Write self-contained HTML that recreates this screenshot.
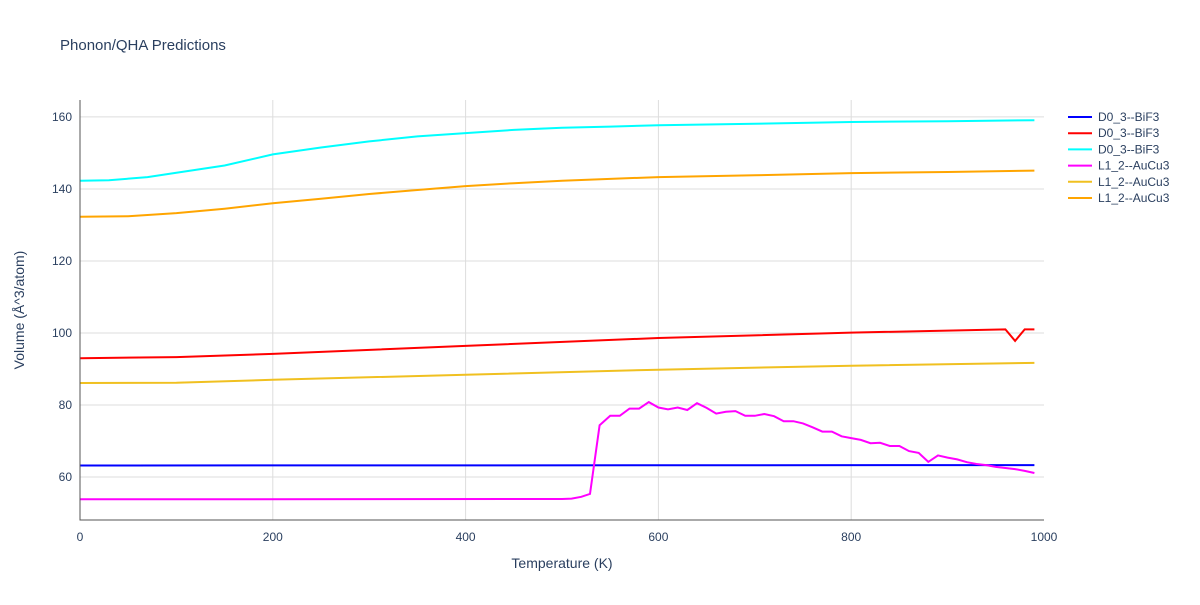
<!DOCTYPE html>
<html><head><meta charset="utf-8"><style>
body{margin:0;background:#fff;font-family:"Liberation Sans",sans-serif}
svg text{font-family:"Liberation Sans",sans-serif;fill:#2a3f5f}
</style></head><body>
<svg id="c" width="1200" height="600">
<text x="60" y="50" font-size="15">Phonon/QHA Predictions</text>
<g id="grid"></g><g id="series"></g><g id="axes"></g><g id="legend"></g>
<text x="562" y="568" font-size="14" text-anchor="middle">Temperature (K)</text>
<text transform="translate(24,310) rotate(-90)" font-size="14" text-anchor="middle">Volume (Å^3/atom)</text>
</svg>
<script>
const xTicks=[0,200,400,600,800,1000];
const yTicks=[60,80,100,120,140,160];
const names=["D0_3--BiF3","D0_3--BiF3","D0_3--BiF3","L1_2--AuCu3","L1_2--AuCu3","L1_2--AuCu3"];
const colors=["#0000ff","#ff0000","#00ffff","#ff00ff","#f0c020","#ffa500"];
const tBlue=[0,990];const vBlue=[63.2,63.3];
const tRed=[0,100,200,400,600,800,960,970,980,990];const vRed=[93.0,93.3,94.2,96.4,98.6,100.1,101.0,97.8,101.0,101.0];
const tCyan=[0,30,70,100,150,200,250,300,350,400,450,500,550,600,700,800,900,990];
const vCyan=[142.3,142.4,143.3,144.5,146.5,149.6,151.5,153.2,154.6,155.5,156.4,157.0,157.3,157.7,158.1,158.6,158.8,159.1];
const tMag=[0,500,510,520,529,539,550,560,570,580,590,600,610,620,630,640,650,660,670,680,690,700,710,720,730,740,750,760,770,780,790,800,810,820,830,840,850,860,870,880,890,900,910,920,930,940,950,960,970,980,990];
const vMag=[53.8,53.9,54.0,54.5,55.3,74.4,77.0,77.0,79.0,79.0,80.8,79.3,78.8,79.3,78.6,80.5,79.2,77.6,78.1,78.3,77.0,77.0,77.5,76.9,75.5,75.5,74.9,73.8,72.6,72.6,71.3,70.8,70.3,69.4,69.5,68.6,68.6,67.2,66.7,64.2,66.0,65.4,64.9,64.1,63.6,63.3,62.8,62.5,62.2,61.7,61.1];
const tYel=[0,100,200,400,600,800,990];const vYel=[86.1,86.2,87.0,88.4,89.8,90.9,91.7];
const tOr=[0,50,100,150,200,250,300,350,400,450,500,550,600,700,800,900,990];
const vOr=[132.3,132.4,133.3,134.5,136.0,137.3,138.6,139.7,140.8,141.6,142.3,142.8,143.3,143.8,144.4,144.7,145.1];
const X0=80,X1=1044,Y0=520,Y1=100,xMin=0,xMax=1000,yMin=48.06,yMax=164.7;
const sx=v=>X0+(v-xMin)/(xMax-xMin)*(X1-X0);
const sy=v=>Y0-(v-yMin)/(yMax-yMin)*(Y0-Y1);
const NS="http://www.w3.org/2000/svg";
function mk(tag,attrs,parent){const e=document.createElementNS(NS,tag);for(const k in attrs)e.setAttribute(k,attrs[k]);document.getElementById(parent).appendChild(e);return e;}
xTicks.forEach(t=>{
 if(t>0&&t<1000){const g=mk("line",{x1:sx(t),x2:sx(t),y1:Y1,y2:Y0,stroke:"#ddd"},"grid");
 
 }
 const l=mk("text",{x:sx(t),y:Y0+21,"font-size":12,"text-anchor":"middle"},"axes");l.textContent=t;
 
 
});
yTicks.forEach(t=>{
 const g=mk("line",{x1:X0,x2:X1,y1:sy(t),y2:sy(t),stroke:"#ddd"},"grid");
 
 
 const l=mk("text",{x:X0-8,y:sy(t)+4,"font-size":12,"text-anchor":"end"},"axes");l.textContent=t;
 
 
});
const ax=mk("path",{d:`M${X0},${Y1}V${Y0}H${X1}`,stroke:"#555",fill:"none"},"axes");


const S=[[tBlue,vBlue],[tRed,vRed],[tCyan,vCyan],[tMag,vMag],[tYel,vYel],[tOr,vOr]];
S.forEach((s,i)=>{
 const d=s[0].map((t,j)=>(j?"L":"M")+sx(t).toFixed(1)+","+sy(s[1][j]).toFixed(1)).join("");
 const p=mk("path",{d:d,stroke:colors[i],"stroke-width":2,fill:"none"},"series");
 
 
 const y=117+i*16.2;
 const ll=mk("line",{x1:1068,x2:1092,y1:y,y2:y,stroke:colors[i],"stroke-width":2},"legend");
 
 
 const lt=mk("text",{x:1098,y:y+4,"font-size":12},"legend");lt.textContent=names[i];
 
 
});
</script>
</body></html>
